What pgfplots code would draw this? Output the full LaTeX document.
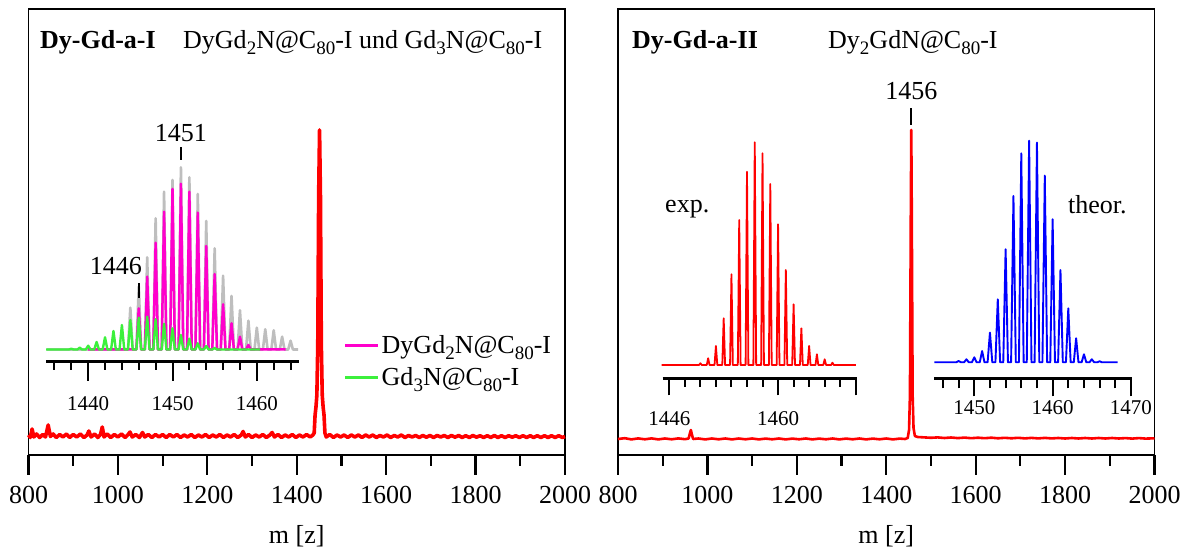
\documentclass[border=0pt]{standalone}
\usepackage{fontspec}
\setmainfont{Liberation Serif}
\usepackage{pgfplots}
\pgfplotsset{compat=1.18}

\definecolor{specred}{RGB}{255,0,0}
\definecolor{dypink}{RGB}{255,0,204}
\definecolor{gdgreen}{RGB}{60,240,60}
\definecolor{simgray}{RGB}{190,190,190}
\definecolor{theoblue}{RGB}{0,0,255}

\newcommand{\sub}[1]{\raisebox{-0.22em}{\fontsize{19}{19}\selectfont #1}}
\newcommand{\bigfont}{\fontsize{26}{30}\selectfont}
\newcommand{\smallfont}{\fontsize{21}{24}\selectfont}

\pgfplotsset{
  mainframe/.style={
    scale only axis, width=536.5pt, height=446pt,
    xmin=800, xmax=2000, ymin=0, ymax=446,
    xtick={800,1000,...,2000}, minor xtick={900,1100,...,1900},
    ytick=\empty, xtick pos=left, tick align=outside,
    major tick length=20pt, minor tick length=11pt,
    every tick/.style={black, line width=2.2pt},
    axis line style={line width=1.8pt},
    tick label style={font=\bigfont},
    xticklabel style={anchor=north, yshift=-8pt},
    /pgf/number format/assume math mode=true,
    /pgf/number format/1000 sep={},
    xlabel={m [z]}, label style={font=\bigfont},
    xlabel style={at={(axis description cs:0.5,0)}, anchor=center, yshift=-81pt},
    clip=false,
  },
  inset/.style={
    scale only axis, axis x line*=bottom, axis y line=none,
    tick align=outside, xtick pos=left,
    every tick/.style={black, line width=2pt},
    axis line style={line width=2.6pt, -},
    tick label style={font=\smallfont},
    /pgf/number format/assume math mode=true,
    /pgf/number format/1000 sep={},
    clip=false,
  },
}

\begin{document}
\begin{tikzpicture}
\useasboundingbox (0,0) rectangle (1189pt,554pt);

% ---------------- left panel: Dy-Gd-a-I ----------------
\begin{axis}[mainframe, at={(28.5pt,99pt)}, anchor=south west]
\addplot[specred, line width=3.6pt, line join=round] coordinates {
(800,20)(804,17.5)(808,26)(812,18)(818,21)(825,17.5)(832,20.5)(838,18)(844,30)(849,18.5)
(855,21)(862,17.5)(870,20.5)(877,18)(885,21)(892,17.5)(900,20.5)(908,18)(916,21)(924,17.5)
(931,20)(935,24)(940,18)(948,21)(955,17.5)(961,20.5)(965,28)(969,18)(976,21)(984,17.5)
(992,20.5)(1000,18)(1008,21)(1016,17.5)(1023,20.5)(1027,23)(1032,18)(1040,20.5)(1048,17.5)
(1055,22.5)(1060,18)(1068,20.5)(1076,17.5)(1084,20.5)(1092,18)(1100,20.5)(1108,17.5)
(1116,20.5)(1124,18)(1132,20.5)(1140,17.5)(1148,20)(1156,18)(1164,20.5)(1172,17.5)
(1180,20)(1188,18)(1196,20.5)(1204,17.5)(1212,20)(1220,18)(1228,20.5)(1236,17.5)(1244,20)
(1252,18)(1260,20.5)(1268,17.5)(1276,20)(1280,23.5)(1285,18)(1292,20.5)(1300,17.5)(1308,20)
(1316,18)(1324,20.5)(1332,17.5)(1340,20)(1345,22.5)(1350,18)(1358,20.5)(1366,17.5)(1374,20)
(1382,18)(1390,20.5)(1398,17.5)(1406,20)(1414,18)(1422,20.5)(1430,18)(1436,20)
(1439,22)(1441,40)(1443,48)(1445,60)(1447,110)(1449,260)(1451,325)(1453,260)(1455,110)
(1457,60)(1459,48)(1461,40)(1463,22)
(1466,18)(1474,20.5)(1482,17.5)(1490,20)(1498,18)(1506,20)(1514,17.5)(1522,20)(1530,18)
(1538,20)(1546,17.5)(1554,20)(1562,18)(1570,20)(1578,17.5)(1586,19.5)(1594,18)(1602,20)
(1610,17.5)(1618,19.5)(1626,18)(1634,20)(1642,17.5)(1650,19.5)(1658,18)(1666,19.5)
(1674,17.5)(1682,19.5)(1690,17.8)(1698,19.5)(1706,17.5)(1714,19.5)(1722,18)(1730,19.5)
(1738,17.5)(1746,19.5)(1754,17.8)(1762,19.5)(1770,17.5)(1778,19.3)(1786,17.5)(1794,19.5)
(1802,17.8)(1810,19.3)(1818,17.5)(1826,19.3)(1834,17.5)(1842,19.5)(1850,17.5)(1858,19.3)
(1866,17.5)(1874,19.3)(1882,17.8)(1890,19.3)(1898,17.5)(1906,19.3)(1914,17.5)(1922,19.3)
(1930,17.5)(1938,19.3)(1946,17.5)(1954,19.3)(1962,17.5)(1970,19.3)(1978,17.5)(1986,19.3)
(1994,17.5)(2000,18.5)
};
\end{axis}

% isotope pattern inset of the left panel
\begin{axis}[inset, at={(46pt,192.3pt)}, anchor=south west,
  width=253pt, height=212.2pt, xmin=1435, xmax=1465, ymin=-12.2, ymax=200,
  xtick={1440,1450,1460}, minor xtick={1436,1438,...,1464},
  major tick length=19pt, minor tick length=8pt,
  xticklabel style={anchor=north, yshift=-12pt},
  legend style={draw=none, fill=none, font=\bigfont, inner sep=0pt,
    at={(axis description cs:1.176,0.135)}, anchor=north west,
    row sep=9pt, cells={anchor=west},
    /tikz/every even column/.style={column sep=8pt}},
  legend image code/.code={\draw[#1, line width=3pt] (0pt,0pt) -- (33pt,0pt);},
]
\addplot[simgray, line width=2.6pt, line join=round, forget plot] coordinates {
(1435.1,0)
(1444.72,0)(1445,41.8)(1445.28,0)
(1445.72,0)(1446,62.8)(1446.28,0)
(1446.72,0)(1447,92.2)(1447.28,0)
(1447.72,0)(1448,131.2)(1448.28,0)
(1448.72,0)(1449,157.8)(1449.28,0)
(1449.72,0)(1450,169.5)(1450.28,0)
(1450.72,0)(1451,182.2)(1451.28,0)
(1451.72,0)(1452,172.2)(1452.28,0)
(1452.72,0)(1453,155.5)(1453.28,0)
(1453.72,0)(1454,128.5)(1454.28,0)
(1454.72,0)(1455,101.2)(1455.28,0)
(1455.72,0)(1456,73.8)(1456.28,0)
(1456.72,0)(1457,53.5)(1457.28,0)
(1457.72,0)(1458,39.2)(1458.28,0)
(1458.72,0)(1459,28.8)(1459.28,0)
(1459.72,0)(1460,21.8)(1460.28,0)
(1460.72,0)(1461,20.2)(1461.28,0)
(1461.72,0)(1462,19.2)(1462.28,0)
(1462.72,0)(1463,12.8)(1463.28,0)
(1463.72,0)(1464,8.8)(1464.28,0)
(1464.9,0)
};
\addplot[dypink, line width=2.5pt, line join=round] coordinates {
(1440,0)
(1445.72,0)(1446,41.2)(1446.28,0)
(1446.72,0)(1447,72.8)(1447.28,0)
(1447.72,0)(1448,106.8)(1448.28,0)
(1448.72,0)(1449,137.8)(1449.28,0)
(1449.72,0)(1450,160.5)(1450.28,0)
(1450.72,0)(1451,165.8)(1451.28,0)
(1451.72,0)(1452,157.8)(1452.28,0)
(1452.72,0)(1453,136.8)(1453.28,0)
(1453.72,0)(1454,103.5)(1454.28,0)
(1454.72,0)(1455,75.5)(1455.28,0)
(1455.72,0)(1456,45.2)(1456.28,0)
(1456.72,0)(1457,26.2)(1457.28,0)
(1457.72,0)(1458,12.8)(1458.28,0)
(1458.72,0)(1459,4.5)(1459.28,0)
(1463.4,0)
};
\addlegendentry{DyGd\sub{2}N@C\sub{80}-I}
\addplot[gdgreen, line width=2.4pt, line join=round] coordinates {
(1435,0)
(1437.72,0)(1438,0.8)(1438.28,0)
(1438.72,0)(1439,1.8)(1439.28,0)
(1439.72,0)(1440,3.8)(1440.28,0)
(1440.72,0)(1441,7.5)(1441.28,0)
(1441.72,0)(1442,12.2)(1442.28,0)
(1442.72,0)(1443,18.5)(1443.28,0)
(1443.72,0)(1444,24.5)(1444.28,0)
(1444.72,0)(1445,29.5)(1445.28,0)
(1445.72,0)(1446,31.8)(1446.28,0)
(1446.72,0)(1447,32.8)(1447.28,0)
(1447.72,0)(1448,30.2)(1448.28,0)
(1448.72,0)(1449,25.7)(1449.28,0)
(1449.72,0)(1450,21.2)(1450.28,0)
(1450.72,0)(1451,14.5)(1451.28,0)
(1451.72,0)(1452,10.8)(1452.28,0)
(1452.72,0)(1453,6.2)(1453.28,0)
(1453.72,0)(1454,3.5)(1454.28,0)
(1454.72,0)(1455,1.5)(1455.28,0)
(1460.4,0)
};
\addlegendentry{Gd\sub{3}N@C\sub{80}-I}
\draw[line width=1.6pt] (axis cs:1451,189.5) -- (axis cs:1451,202.5);
\node[anchor=base, font=\bigfont, inner sep=0pt] at (axis cs:1451,207.5) {1451};
\draw[line width=1.6pt] (axis cs:1446,51.5) -- (axis cs:1446,66.5);
\node[anchor=base east, font=\bigfont, inner sep=0pt] at (axis cs:1446.4,74.5) {1446};
\end{axis}

% ---------------- right panel: Dy-Gd-a-II ----------------
\begin{axis}[mainframe, at={(618pt,99pt)}, anchor=south west]
\addplot[specred, line width=2.6pt, line join=round] coordinates {
(800,16)(815,16.8)(830,15.6)(845,16.6)(860,15.7)(875,16.6)(890,15.6)(905,16.5)(920,15.7)
(935,16.6)(950,15.8)(958,16.5)(961,22)(963,25)(965,21)(968,16)(980,16.5)(995,15.6)
(1010,16.5)(1025,15.7)(1040,16.5)(1055,15.6)(1070,16.5)(1085,15.7)(1100,16.5)(1115,15.6)
(1130,16.4)(1145,15.7)(1160,16.5)(1175,15.6)(1190,16.4)(1205,15.7)(1220,16.5)(1235,15.6)
(1250,16.4)(1265,15.7)(1280,16.5)(1295,15.6)(1310,16.4)(1325,15.7)(1340,16.5)(1355,15.6)
(1370,16.4)(1385,15.7)(1400,16.5)(1415,15.6)(1430,16.4)(1442,16)
(1448,17)(1451,25)(1453,60)(1455,250)(1456,325)(1457,250)(1459,60)(1461,27)(1464,19)
(1470,18)(1485,17.6)(1500,17.2)(1515,17.6)(1530,17)(1545,17.5)(1560,16.9)(1575,17.4)
(1590,16.8)(1605,17.3)(1620,16.8)(1635,17.3)(1650,16.7)(1665,17.2)(1680,16.7)(1695,17.2)
(1710,16.6)(1725,17.1)(1740,16.6)(1755,17.1)(1770,16.6)(1785,17)(1800,16.5)(1815,17)
(1830,16.5)(1845,17)(1860,16.5)(1875,17)(1890,16.5)(1905,17)(1920,16.5)(1935,16.9)
(1950,16.4)(1965,16.9)(1980,16.4)(2000,16.7)
};
\draw[line width=1.6pt] (axis cs:1456,330) -- (axis cs:1456,347);
\node[anchor=base, font=\bigfont, inner sep=0pt] at (axis cs:1456,355) {1456};
\end{axis}

% measured isotope pattern
\begin{axis}[inset, at={(662.7pt,175.7pt)}, anchor=south west,
  width=194.6pt, height=248.3pt, xmin=1445.15, xmax=1470.2, ymin=-13.3, ymax=235,
  xtick={1446,1460,1470}, xticklabels={1446,1460,{}},
  minor xtick={1448,1450,...,1468},
  major tick length=17pt, minor tick length=8.5pt,
  xticklabel style={anchor=north, yshift=-13pt},
]
\addplot[specred, line width=1.8pt, line join=round] coordinates {
(1445,0)
(1449.82,0)(1450,1.7)(1450.18,0)
(1450.82,0)(1451,6.7)(1451.18,0)
(1451.82,0)(1452,19)(1452.18,0)
(1452.82,0)(1453,46.7)(1453.18,0)
(1453.82,0)(1454,90.7)(1454.18,0)
(1454.82,0)(1455,145)(1455.18,0)
(1455.82,0)(1456,193.3)(1456.18,0)
(1456.82,0)(1457,222.7)(1457.18,0)
(1457.82,0)(1458,211.7)(1458.18,0)
(1458.82,0)(1459,181)(1459.18,0)
(1459.82,0)(1460,140.7)(1460.18,0)
(1460.82,0)(1461,95)(1461.18,0)
(1461.82,0)(1462,60.7)(1462.18,0)
(1462.82,0)(1463,36.7)(1463.18,0)
(1463.82,0)(1464,19)(1464.18,0)
(1464.82,0)(1465,10.7)(1465.18,0)
(1465.82,0)(1466,5.7)(1466.18,0)
(1466.82,0)(1467,2.3)(1467.18,0)
(1470,0)
};
\end{axis}

% calculated isotope pattern
\begin{axis}[inset, at={(934pt,175.7pt)}, anchor=south west,
  width=198.3pt, height=251pt, xmin=1444.86, xmax=1470.17, ymin=-16, ymax=235,
  xtick={1450,1460,1470}, minor xtick={1446,1448,...,1468},
  major tick length=18pt, minor tick length=10pt,
  xticklabel style={anchor=north, yshift=-1pt},
]
\addplot[theoblue, line width=1.9pt, line join=round] coordinates {
(1444.9,0)
(1447.7,0)(1448,1.3)(1448.3,0)
(1448.7,0)(1449,3)(1449.3,0)
(1449.7,0)(1450,5)(1450.3,0)
(1450.7,0)(1451,11.3)(1451.3,0)
(1451.7,0)(1452,29.7)(1452.3,0)
(1452.7,0)(1453,63)(1453.3,0)
(1453.7,0)(1454,113)(1454.3,0)
(1454.7,0)(1455,166.3)(1455.3,0)
(1455.7,0)(1456,209)(1456.3,0)
(1456.7,0)(1457,221.7)(1457.3,0)
(1457.7,0)(1458,219.7)(1458.3,0)
(1458.7,0)(1459,186.7)(1459.3,0)
(1459.7,0)(1460,143)(1460.3,0)
(1460.7,0)(1461,92.3)(1461.3,0)
(1461.7,0)(1462,54)(1462.3,0)
(1462.7,0)(1463,24)(1463.3,0)
(1463.7,0)(1464,8)(1464.3,0)
(1464.7,0)(1465,3)(1465.3,0)
(1465.7,0)(1466,1)(1466.3,0)
(1468.3,0)
};
\end{axis}

% panel titles and annotations
\node[anchor=base west, font=\bigfont\bfseries, inner sep=0pt] at (40pt,505pt) {Dy-Gd-a-I};
\node[anchor=base west, font=\bigfont, inner sep=0pt] at (183pt,505pt)
  {DyGd\sub{2}N@C\sub{80}-I und Gd\sub{3}N@C\sub{80}-I};
\node[anchor=base west, font=\bigfont\bfseries, inner sep=0pt] at (632pt,505pt) {Dy-Gd-a-II};
\node[anchor=base west, font=\bigfont, inner sep=0pt] at (828pt,505pt) {Dy\sub{2}GdN@C\sub{80}-I};
\node[anchor=base west, font=\bigfont, inner sep=0pt] at (665pt,341pt) {exp.};
\node[anchor=base west, font=\bigfont, inner sep=0pt] at (1068pt,340pt) {theor.};
\end{tikzpicture}
\end{document}
